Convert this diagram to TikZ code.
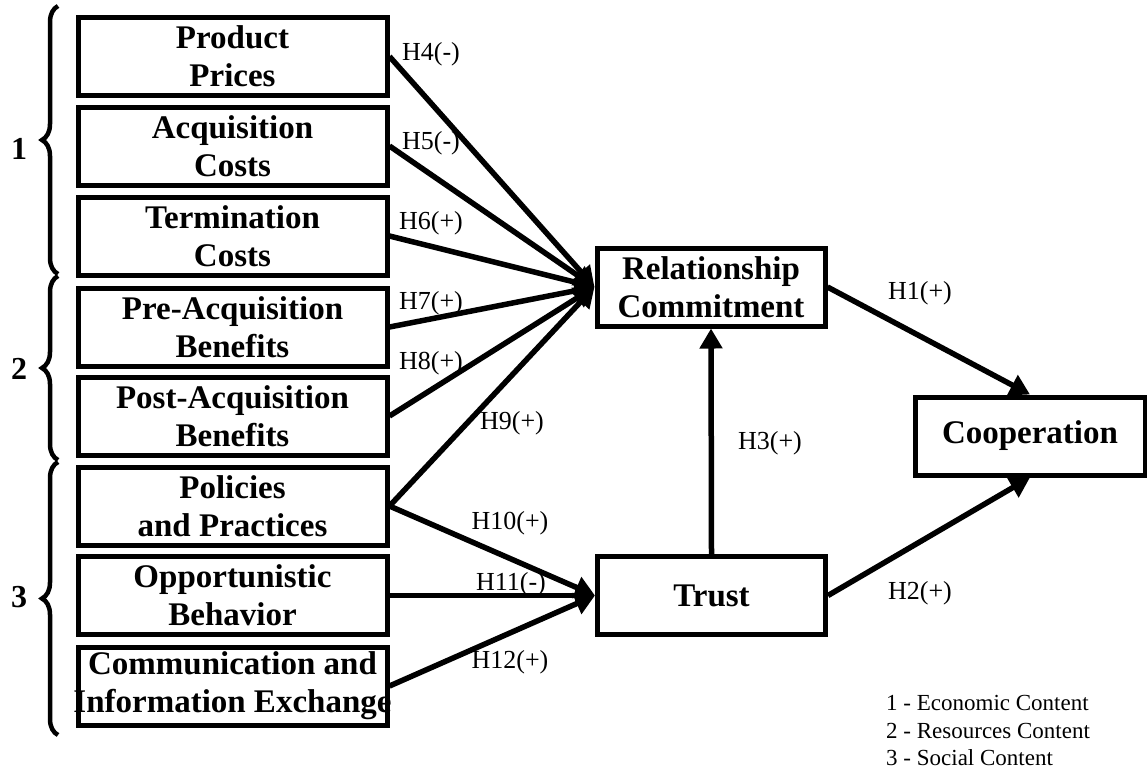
\documentclass[tikz,border=0pt]{standalone}
\usepackage{fontspec}
\setmainfont{Liberation Serif}
\usetikzlibrary{arrows.meta,decorations.pathreplacing}
\begin{document}
\begin{tikzpicture}[x=1pt,y=-1pt,
  box/.style={draw,line width=5pt,minimum width=309pt,minimum height=78pt,inner sep=0pt,align=center,font=\bfseries\fontsize{33}{38}\selectfont},
  rbox/.style={box,minimum width=228pt},
  arr/.style={line width=5.5pt,-{Triangle[length=20pt,width=22pt]}},
  hlab/.style={font=\fontsize{26}{30}\selectfont,inner sep=0pt},
  grp/.style={font=\bfseries\fontsize{32}{36}\selectfont,inner sep=0pt},
  leg/.style={font=\fontsize{23}{27}\selectfont,inner sep=0pt,anchor=west},
  brc/.style={decorate,decoration={brace,amplitude=16pt},line width=4.5pt}]
\useasboundingbox (0,0) rectangle (1147,772);

% left boxes
\node[box] (pp)  at (232.5,56.5) {Product\\Prices};
\node[box] (ac)  at (232.5,146)  {Acquisition\\Costs};
\node[box] (tc)  at (232.5,236)  {Termination\\Costs};
\node[box] (pre) at (232.5,327)  {Pre-Acquisition\\Benefits};
\node[box] (post) at (232.5,416) {Post-Acquisition\\Benefits};
\node[box] (pol) at (232.5,506)  {Policies\\and Practices};
\node[box] (opp) at (232.5,595.5)  {Opportunistic\\Behavior};
\node[box] (com) at (232.5,686)  {Communication and\\\makebox[0pt]{Information Exchange}};

% right boxes
\node[rbox] (rc)   at (711,287)  {Relationship\\Commitment};
\node[rbox] (tr)   at (711.5,595.5) {Trust};
\node[rbox,minimum width=230pt] (coop) at (1030,436) {Cooperation};

% braces
\coordinate (b1a) at (58,274); \coordinate (b1b) at (58,6);
\coordinate (b2a) at (58,460); \coordinate (b2b) at (58,276);
\coordinate (b3a) at (58,735); \coordinate (b3b) at (58,462);
\draw[brc] (b1a) -- (b1b);
\draw[brc] (b2a) -- (b2b);
\draw[brc] (b3a) -- (b3b);
\node[grp] (g1) at (19,149) {1};
\node[grp] (g2) at (19,369) {2};
\node[grp] (g3) at (19,597) {3};

% arrows
\draw[arr] (pp.east) -- (rc.west);
\draw[arr] (ac.east) -- (rc.west);
\draw[arr] (tc.east) -- (rc.west);
\draw[arr] (pre.east) -- (rc.west);
\draw[arr] (post.east) -- (rc.west);
\draw[arr] (pol.east) -- (rc.west);
\draw[arr] (pol.east) -- (tr.west);
\draw[arr] (opp.east) -- (tr.west);
\draw[arr] (com.east) -- (tr.west);
\draw[arr] (tr.north) -- (rc.south);
\draw[arr] (rc.east) -- (coop.north);
\draw[arr] (tr.east) -- (coop.south);

% labels
\node[hlab] (h4)  at (431,54)  {H4(-)};
\node[hlab] (h5)  at (431,143) {H5(-)};
\node[hlab] (h6)  at (431,223) {H6(+)};
\node[hlab] (h7)  at (431,303) {H7(+)};
\node[hlab] (h8)  at (431,363) {H8(+)};
\node[hlab] (h9)  at (512,423) {H9(+)};
\node[hlab] (h10) at (510,523) {H10(+)};
\node[hlab] (h11) at (511,584) {H11(-)};
\node[hlab] (h12) at (510,662) {H12(+)};
\node[hlab] (h3)  at (770,443) {H3(+)};
\node[hlab] (h1)  at (920,293) {H1(+)};
\node[hlab] (h2)  at (920,593) {H2(+)};

% legend
\node[leg] (l1) at (886,703) {1 - Economic Content};
\node[leg] (l2) at (886,731) {2 - Resources Content};
\node[leg] (l3) at (886,758) {3 - Social Content};
\end{tikzpicture}
\end{document}
